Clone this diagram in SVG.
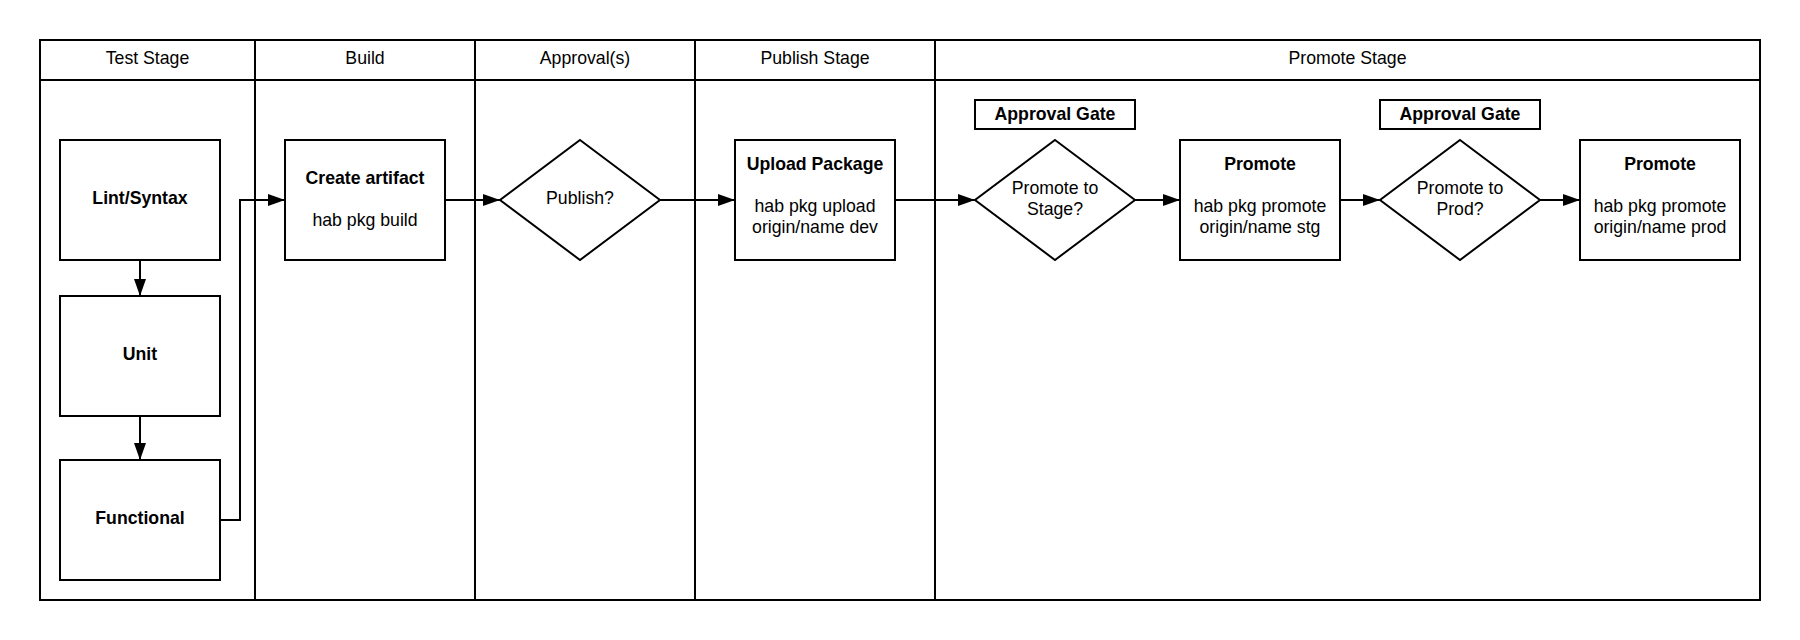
<svg xmlns="http://www.w3.org/2000/svg" width="1800" height="640" viewBox="0 0 1800 640">
<style>
.bg{fill:#fff}
.ln{fill:none;stroke:#000;stroke-width:2}
.bx{fill:#fff;stroke:#000;stroke-width:2}
.cn{fill:none;stroke:#000;stroke-width:2}
text{font-family:"Liberation Sans",Arial,sans-serif;font-size:17.7px;fill:#000;text-anchor:middle}
.b{font-weight:bold}
</style>
<defs>
<marker id="ah" markerUnits="userSpaceOnUse" markerWidth="18" markerHeight="12" refX="17" refY="6" orient="auto">
<path d="M0,0 L17,6 L0,12 z" fill="#000"/>
</marker>
</defs>
<rect class="bg" x="0" y="0" width="1800" height="640"/>
<g id="lanes">
<rect class="ln" x="40" y="40" width="1720" height="560"/>
<line class="ln" x1="40" y1="80" x2="1760" y2="80"/>
<line class="ln" x1="255" y1="40" x2="255" y2="600"/>
<line class="ln" x1="475" y1="40" x2="475" y2="600"/>
<line class="ln" x1="695" y1="40" x2="695" y2="600"/>
<line class="ln" x1="935" y1="40" x2="935" y2="600"/>
<text x="147.5" y="63.5">Test Stage</text>
<text x="365" y="63.5">Build</text>
<text x="585" y="63.5">Approval(s)</text>
<text x="815" y="63.5">Publish Stage</text>
<text x="1347.5" y="63.5">Promote Stage</text>
</g>
<g id="connectors">
<path class="cn" d="M140,260 V296" marker-end="url(#ah)"/>
<path class="cn" d="M140,416 V460" marker-end="url(#ah)"/>
<path class="cn" d="M220,520 H240 V200 H285" marker-end="url(#ah)"/>
<path class="cn" d="M445,200 H500" marker-end="url(#ah)"/>
<path class="cn" d="M660,200 H735" marker-end="url(#ah)"/>
<path class="cn" d="M895,200 H975" marker-end="url(#ah)"/>
<path class="cn" d="M1135,200 H1180" marker-end="url(#ah)"/>
<path class="cn" d="M1340,200 H1380" marker-end="url(#ah)"/>
<path class="cn" d="M1540,200 H1580" marker-end="url(#ah)"/>
</g>
<g id="lint">
<rect class="bx" x="60" y="140" width="160" height="120"/>
<text class="b" x="140" y="204">Lint/Syntax</text>
</g>
<g id="unit">
<rect class="bx" x="60" y="296" width="160" height="120"/>
<text class="b" x="140" y="360">Unit</text>
</g>
<g id="functional">
<rect class="bx" x="60" y="460" width="160" height="120"/>
<text class="b" x="140" y="524">Functional</text>
</g>
<g id="create">
<rect class="bx" x="285" y="140" width="160" height="120"/>
<text class="b" x="365" y="184">Create artifact</text>
<text x="365" y="226">hab pkg build</text>
</g>
<g id="publish">
<polygon class="bx" points="580,140 660,200 580,260 500,200"/>
<text x="580" y="204">Publish?</text>
</g>
<g id="upload">
<rect class="bx" x="735" y="140" width="160" height="120"/>
<text class="b" x="815" y="170">Upload Package</text>
<text x="815" y="212">hab pkg upload</text>
<text x="815" y="233">origin/name dev</text>
</g>
<g id="gate1">
<rect class="bx" x="975" y="100" width="160" height="29"/>
<text class="b" x="1055" y="120">Approval Gate</text>
</g>
<g id="stage">
<polygon class="bx" points="1055,140 1135,200 1055,260 975,200"/>
<text x="1055" y="194">Promote to</text>
<text x="1055" y="215">Stage?</text>
</g>
<g id="promote-stg">
<rect class="bx" x="1180" y="140" width="160" height="120"/>
<text class="b" x="1260" y="170">Promote</text>
<text x="1260" y="212">hab pkg promote</text>
<text x="1260" y="233">origin/name stg</text>
</g>
<g id="gate2">
<rect class="bx" x="1380" y="100" width="160" height="29"/>
<text class="b" x="1460" y="120">Approval Gate</text>
</g>
<g id="prod">
<polygon class="bx" points="1460,140 1540,200 1460,260 1380,200"/>
<text x="1460" y="194">Promote to</text>
<text x="1460" y="215">Prod?</text>
</g>
<g id="promote-prod">
<rect class="bx" x="1580" y="140" width="160" height="120"/>
<text class="b" x="1660" y="170">Promote</text>
<text x="1660" y="212">hab pkg promote</text>
<text x="1660" y="233">origin/name prod</text>
</g>
</svg>
